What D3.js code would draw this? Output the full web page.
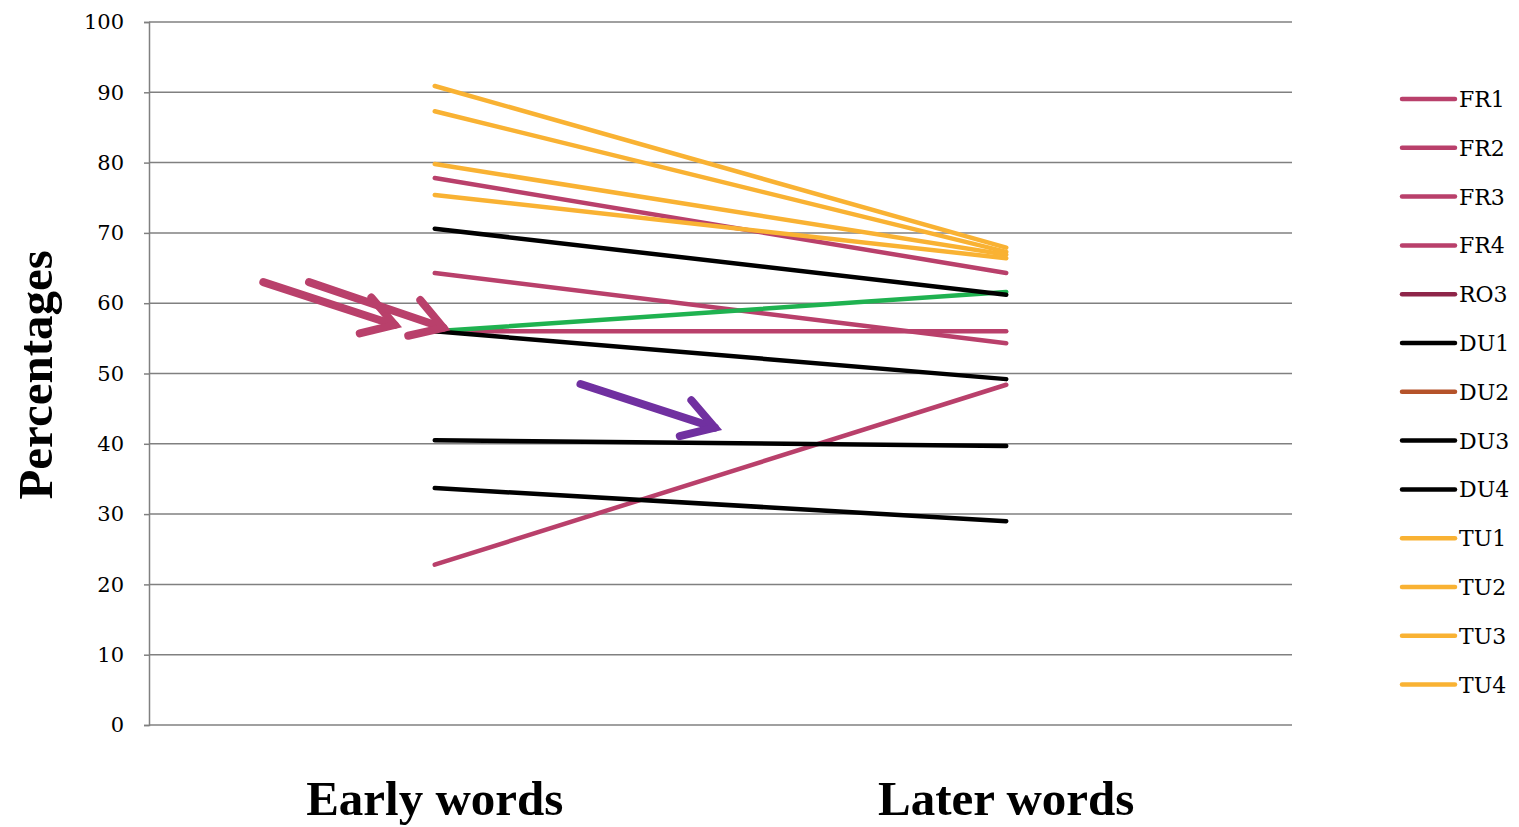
<!DOCTYPE html>
<html>
<head>
<meta charset="utf-8">
<script src="https://cdn.jsdelivr.net/npm/d3@7"></script>
<style>
  body { margin: 0; background: #fff; }
  svg text { font-family: "Liberation Serif", "DejaVu Serif", serif; fill: #000; }
</style>
</head>
<body>
<div id="chart"></div>
<script>
// chart data
const categories = ["Early words", "Later words"];
const seriesNames = ["FR1", "FR2", "FR3", "FR4", "RO3", "DU1", "DU2", "DU3", "DU4", "TU1", "TU2", "TU3", "TU4"];
const seriesColors = ["#B9406B", "#B9406B", "#B9406B", "#B9406B", "#8E2549", "#000000", "#B5532A", "#000000", "#000000", "#F9B233", "#F9B233", "#F9B233", "#F9B233"];
const earlyValues = [77.8, 64.3, 56.0, 22.8, null, 70.6, null, 40.5, 33.7, 90.9, 87.3, 79.8, 75.4];
const laterValues = [64.3, 54.3, 56.0, 48.4, null, 61.2, null, 39.7, 29.0, 67.9, 67.3, 66.9, 66.4];
// the green line has no legend entry
const extraEarly = [56.0];
const extraLater = [61.6];
const extraColors = ["#1FB250"];
// a second black line that starts at 56
const blackEarly = [56.0];
const blackLater = [49.2];
const yTicks = [0, 10, 20, 30, 40, 50, 60, 70, 80, 90, 100];

// arrows in data units: [category index, offset (fraction of band), value]
const arrows = [
  { from: [0, -0.30, 63.0], to: [0, -0.07, 56.9], color: "#B9406B" },
  { from: [0, -0.22, 63.0], to: [0, 0.015, 56.5], color: "#B9406B" },
  { from: [0, 0.255, 48.5], to: [0, 0.49, 42.3], color: "#7030A0" }
];

const width = 1519, height = 827;
const margin = { top: 22, right: 227, bottom: 102, left: 149 };

const svg = d3.select("#chart").append("svg")
    .attr("width", width)
    .attr("height", height);

const x = d3.scaleBand()
    .domain(categories)
    .range([margin.left, width - margin.right]);

const y = d3.scaleLinear()
    .domain([0, 100])
    .range([height - margin.bottom, margin.top]);

// gridlines
svg.append("g")
    .selectAll("line")
    .data(yTicks)
    .enter()
    .append("line")
    .attr("x1", margin.left)
    .attr("x2", width - margin.right)
    .attr("y1", d => y(d))
    .attr("y2", d => y(d))
    .attr("stroke", "#808080")
    .attr("stroke-width", 1.5);

// y axis
const yAxis = svg.append("g")
    .attr("transform", `translate(${margin.left},0)`)
    .call(d3.axisLeft(y).tickValues(yTicks).tickSize(5).tickPadding(20));
yAxis.select(".domain").attr("stroke", "#808080").attr("stroke-width", 1.5);
yAxis.selectAll(".tick line").attr("stroke", "#808080").attr("stroke-width", 1.5);
yAxis.selectAll("text")
    .style("font-size", "21px")
    .style("font-family", "'DejaVu Serif', serif")
    .attr("fill", "#000");

// axis title
svg.append("text")
    .attr("transform", `translate(52, ${y(49.8)}) rotate(-90)`)
    .attr("text-anchor", "middle")
    .style("font-size", "49px")
    .style("font-weight", "bold")
    .text("Percentages");

// category labels
svg.selectAll(".cat")
    .data(categories)
    .enter()
    .append("text")
    .attr("class", "cat")
    .attr("x", d => x(d) + x.bandwidth() / 2)
    .attr("y", 815)
    .attr("text-anchor", "middle")
    .style("font-size", "49px")
    .style("font-weight", "bold")
    .text(d => d);

const cx = i => x(categories[i]) + x.bandwidth() / 2;

function drawLine(a, b, color) {
    svg.append("line")
        .attr("x1", cx(0)).attr("y1", y(a))
        .attr("x2", cx(1)).attr("y2", y(b))
        .attr("stroke", color)
        .attr("stroke-width", 4.5)
        .attr("stroke-linecap", "round");
}

// FR lines first, then green, then DU, then TU
[0, 1, 2, 3].forEach(i => drawLine(earlyValues[i], laterValues[i], seriesColors[i]));
extraEarly.forEach((v, i) => drawLine(v, extraLater[i], extraColors[i]));
[5, 7, 8].forEach(i => drawLine(earlyValues[i], laterValues[i], seriesColors[i]));
blackEarly.forEach((v, i) => drawLine(v, blackLater[i], "#000"));
[9, 10, 11, 12].forEach(i => drawLine(earlyValues[i], laterValues[i], seriesColors[i]));

// arrows
const ax = p => x(categories[p[0]]) + x.bandwidth() / 2 + p[1] * x.bandwidth();
arrows.forEach(a => {
    const x1 = ax(a.from), y1 = y(a.from[2]);
    const x2 = ax(a.to), y2 = y(a.to[2]);
    const ang = Math.atan2(y2 - y1, x2 - x1);
    const headLen = 36, spread = 0.55;
    const g = svg.append("g")
        .attr("stroke", a.color)
        .attr("stroke-width", 8)
        .attr("stroke-linecap", "round")
        .attr("fill", "none");
    g.append("line").attr("x1", x1).attr("y1", y1).attr("x2", x2).attr("y2", y2);
    g.append("path")
        .attr("stroke-linejoin", "miter")
        .attr("d", `M${x2 - headLen * Math.cos(ang - spread)},${y2 - headLen * Math.sin(ang - spread)}
                    L${x2},${y2}
                    L${x2 - headLen * Math.cos(ang + spread)},${y2 - headLen * Math.sin(ang + spread)}`);
});

// legend
const legend = svg.append("g")
    .attr("transform", "translate(1402, 99)");

const item = legend.selectAll("g")
    .data(seriesNames)
    .enter()
    .append("g")
    .attr("transform", (d, i) => `translate(0, ${i * 48.8})`);

item.append("line")
    .attr("x1", 0).attr("x2", 53)
    .attr("stroke", (d, i) => seriesColors[i])
    .attr("stroke-width", 4.5)
    .attr("stroke-linecap", "round");

item.append("text")
    .attr("x", 57)
    .attr("y", 8)
    .style("font-size", "22px")
    .style("font-family", "'DejaVu Serif', serif")
    .text(d => d);
</script>
</body>
</html>
